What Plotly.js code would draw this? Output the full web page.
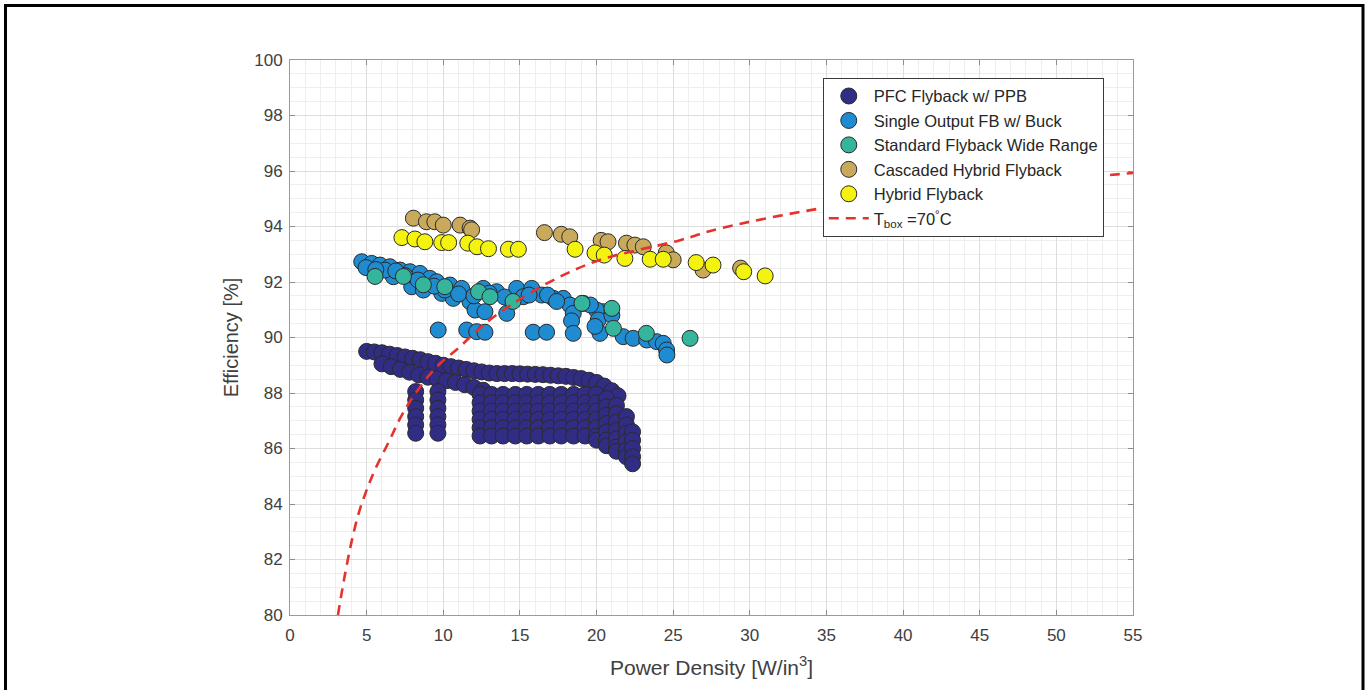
<!DOCTYPE html>
<html>
<head>
<meta charset="utf-8">
<script src="https://cdn.plot.ly/plotly-3.0.1.min.js"></script>
<style>html,body{margin:0;padding:0;background:#fff;}#chart{width:1368px;height:690px;}</style>
</head>
<body>
<div id="chart"></div>
<script>
// ---- Data ----
const seriesNames = ["PFC Flyback w/ PPB", "Single Output FB w/ Buck", "Standard Flyback Wide Range", "Cascaded Hybrid Flyback", "Hybrid Flyback"];
const lineName = "T<sub>box</sub> =70<sup>°</sup>C";

const pfcX = [
5.0,5.5,6.0,6.5,7.0,7.5,8.0,8.5,9.0,9.5,10.0,10.5,11.0,11.5,12.0,12.5,13.0,13.5,14.0,14.5,15.0,15.5,16.0,16.5,17.0,17.5,18.0,18.5,19.0,19.5,20.0,20.5,21.0,21.4,
6.0,6.6,7.2,7.8,8.4,9.0,9.6,10.2,10.8,11.4,12.0,12.6,
8.2,8.2,8.2,8.2,8.2,8.2,
9.65,9.65,9.65,9.65,9.65,9.65,
12.4,12.4,12.4,12.4,12.4,12.4,
13.15,13.15,13.15,13.15,13.15,13.15,
13.9,13.9,13.9,13.9,13.9,13.9,
14.7,14.7,14.7,14.7,14.7,14.7,
15.45,15.45,15.45,15.45,15.45,15.45,
16.2,16.2,16.2,16.2,16.2,16.2,
16.95,16.95,16.95,16.95,16.95,16.95,
17.7,17.7,17.7,17.7,17.7,17.7,
18.5,18.5,18.5,18.5,18.5,18.5,
19.25,19.25,19.25,19.25,19.25,19.25,
20.0,20.0,20.0,20.0,20.0,20.0,20.0,
20.65,20.65,20.65,20.65,20.65,20.65,20.65,
21.3,21.3,21.3,21.3,21.3,21.3,21.3,
21.95,21.95,21.95,21.95,21.95,21.95,
22.35,22.35,22.35,22.35,22.35
];
const pfcY = [
89.5,89.48,89.45,89.4,89.35,89.3,89.25,89.2,89.13,89.07,89.0,88.95,88.9,88.85,88.8,88.76,88.72,88.7,88.7,88.7,88.69,88.68,88.67,88.66,88.64,88.62,88.6,88.56,88.52,88.46,88.38,88.25,88.08,87.9,
89.05,88.95,88.85,88.75,88.65,88.57,88.5,88.44,88.38,88.3,88.2,88.1,
88.05,87.75,87.45,87.15,86.85,86.55,
88.05,87.75,87.45,87.15,86.85,86.55,
87.95,87.65,87.35,87.05,86.75,86.45,
87.95,87.65,87.35,87.05,86.75,86.45,
87.95,87.65,87.35,87.05,86.75,86.45,
87.95,87.65,87.35,87.05,86.75,86.45,
87.95,87.65,87.35,87.05,86.75,86.45,
87.95,87.65,87.35,87.05,86.75,86.45,
87.95,87.65,87.35,87.05,86.75,86.45,
87.95,87.65,87.35,87.05,86.75,86.45,
87.95,87.65,87.35,87.05,86.75,86.45,
87.95,87.65,87.35,87.05,86.75,86.45,
87.95,87.65,87.35,87.05,86.75,86.45,86.3,
87.8,87.5,87.2,86.9,86.6,86.3,86.1,
87.55,87.25,86.95,86.65,86.35,86.05,85.9,
87.15,86.85,86.55,86.25,85.95,85.7,
86.6,86.3,86.0,85.7,85.45
];

const singleX = [
4.68,5.33,5.87,6.52,7.18,7.83,8.48,9.13,9.57,10.44,11.2,12.61,13.48,14.79,15.77,16.42,17.18,17.83,19.13,20.44,
6.74,7.94,8.7,9.9,10.65,11.74,12.07,12.72,14.14,15.22,18.26,18.48,18.37,18.48,20.0,20.11,20.22,
9.67,11.53,12.18,12.72,15.87,16.74,21.74,22.39,23.27,23.92,24.35,24.57,24.59,
4.96,6.2,7.5,8.35,10.1,11.0,14.0,15.6,16.8,19.6,21.0,13.0,12.0,5.6,6.9,9.4,17.4,19.9
];
const singleY = [
92.73,92.67,92.61,92.55,92.43,92.37,92.31,92.13,92.01,91.89,91.77,91.77,91.65,91.77,91.77,91.53,91.41,91.41,91.23,90.93,
92.19,91.83,91.71,91.59,91.41,91.29,90.99,90.93,90.87,91.47,91.17,90.87,90.6,90.15,90.99,90.63,90.15,
90.27,90.27,90.21,90.19,90.19,90.19,90.03,89.97,89.91,89.85,89.79,89.55,89.37,
92.52,92.43,92.23,92.07,91.71,91.57,91.46,91.53,91.53,91.17,90.8,91.6,91.5,92.45,92.4,91.85,91.3,90.4
];

const standardX = [5.55, 7.4, 8.7, 10.1, 12.3, 13.05, 14.55, 19.05, 21.0, 21.1, 23.25, 26.1];
const standardY = [92.2, 92.2, 91.9, 91.83, 91.65, 91.47, 91.3, 91.23, 91.05, 90.33, 90.15, 89.97];

const cascadedX = [8.05, 8.9, 9.45, 10.0, 11.1, 11.75, 11.85, 16.6, 17.7, 18.25, 20.3, 20.75, 21.95, 22.5, 23.05, 24.55, 25.0, 26.95, 29.4];
const cascadedY = [94.3, 94.17, 94.17, 94.05, 94.05, 93.94, 93.88, 93.78, 93.72, 93.63, 93.5, 93.45, 93.4, 93.33, 93.27, 93.05, 92.8, 92.43, 92.5];

const hybridX = [7.3, 8.15, 8.8, 9.9, 10.35, 11.6, 12.2, 12.95, 14.25, 14.9, 18.6, 19.9, 20.5, 21.85, 23.5, 24.35, 26.5, 27.6, 29.6, 31.0];
const hybridY = [93.6, 93.55, 93.45, 93.42, 93.42, 93.4, 93.27, 93.2, 93.18, 93.18, 93.18, 93.05, 92.97, 92.85, 92.82, 92.82, 92.7, 92.61, 92.37, 92.22];

const tboxX = [3.13, 3.5, 4.0, 4.5, 5.0, 5.54, 6.5, 7.2, 8.04, 9.5, 11.09, 12.5, 14.57, 17.18, 20.2, 25.4, 28.05, 34.6, 40.0, 45.0, 50.0, 55.0];
const tboxY = [80.0, 81.2, 82.6, 83.7, 84.5, 85.23, 86.3, 87.1, 87.87, 88.9, 89.67, 90.4, 91.23, 92.07, 92.79, 93.5, 93.93, 94.65, 95.05, 95.4, 95.68, 95.93];

const xTicks = [0,5,10,15,20,25,30,35,40,45,50,55];
const yTicks = [80,82,84,86,88,90,92,94,96,98,100];

// ---- Styles ----
const colors = ["#322d84", "#1f8bd0", "#35b59c", "#c9aa5c", "#f3f30f"];
const xs = [pfcX, singleX, standardX, cascadedX, hybridX];
const ys = [pfcY, singleY, standardY, cascadedY, hybridY];
const font = "Liberation Sans, Arial, Helvetica, sans-serif";

const traces = seriesNames.map((n, i) => ({
  type: "scatter", mode: "markers", name: n, x: xs[i], y: ys[i],
  marker: {size: 16, color: colors[i], line: {color: "#2a2a2a", width: 1}},
  hoverinfo: "skip"
}));
traces.push({
  type: "scatter", mode: "lines", name: lineName, x: tboxX, y: tboxY,
  line: {color: "#e5322d", width: 2.6, dash: "10px,7px", shape: "spline"},
  hoverinfo: "skip"
});

const axisCommon = {
  ticks: "inside", ticklen: 5, tickcolor: "#8c8c8c", tickwidth: 1,
  showline: true, linecolor: "#9a9a9a", linewidth: 1, mirror: "ticks",
  showgrid: true, gridcolor: "#dddddd", gridwidth: 1, zeroline: false,
  tickfont: {family: font, size: 17, color: "#404040"}
};

const layout = {
  width: 1368, height: 690,
  margin: {l: 290, r: 235, t: 60, b: 75},
  paper_bgcolor: "#ffffff", plot_bgcolor: "#ffffff",
  font: {family: font, color: "#404040"},
  showlegend: true,
  xaxis: Object.assign({}, axisCommon, {
    range: [0, 55], tickvals: xTicks, ticktext: xTicks.map(String),
    ticklabelstandoff: 5,
    minor: {dtick: 1, tick0: 0, showgrid: true, gridcolor: "#eeeeee", gridwidth: 1},
    title: {text: "Power Density [W/in<sup>3</sup>]", font: {family: font, size: 21, color: "#404040"}, standoff: 15}
  }),
  yaxis: Object.assign({}, axisCommon, {
    range: [80, 100], tickvals: yTicks, ticktext: yTicks.map(String),
    ticklabelstandoff: 3,
    minor: {dtick: 0.5, tick0: 80, showgrid: true, gridcolor: "#eeeeee", gridwidth: 1},
    title: {text: "Efficiency [%]", font: {family: font, size: 20, color: "#404040"}, standoff: 10}
  }),
  legend: {
    x: 0.632, y: 0.968, xanchor: "left", yanchor: "top",
    bgcolor: "#ffffff", bordercolor: "#3a3a3a", borderwidth: 1,
    font: {family: font, size: 16.5, color: "#262626"},
    itemwidth: 40,
    tracegroupgap: 0
  },
  shapes: [{
    type: "rect", xref: "paper", yref: "paper",
    x0: (5.5 - 290) / 843, x1: (1363 - 290) / 843,
    y0: (615 - 720) / 555, y1: (615 - 5.5) / 555,
    line: {color: "#000000", width: 3}, fillcolor: "rgba(0,0,0,0)", layer: "above"
  }]
};

Plotly.newPlot("chart", traces, layout, {staticPlot: true, displayModeBar: false});
</script>
</body>
</html>
